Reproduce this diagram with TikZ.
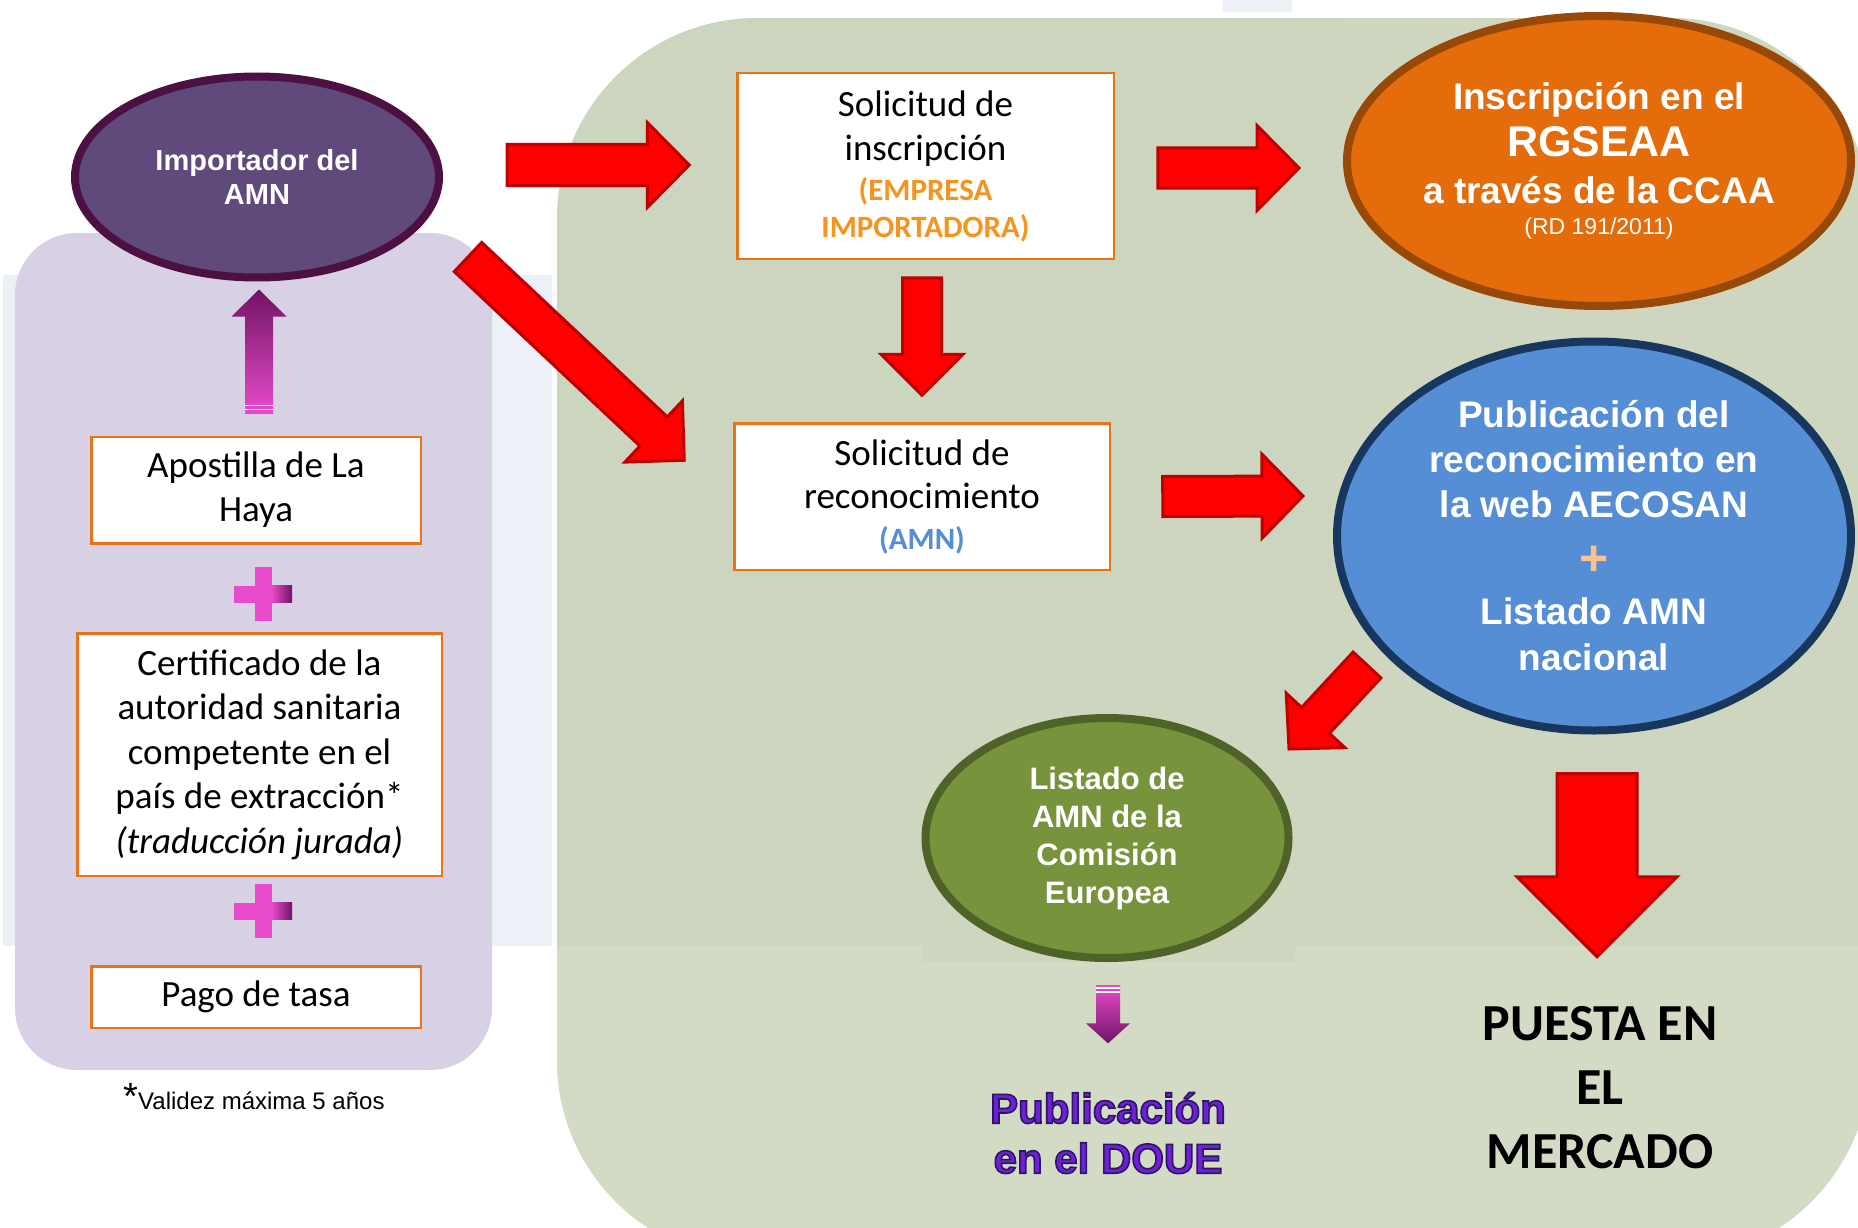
\documentclass[tikz,border=0pt]{standalone}
\usepackage{fontspec}
\setmainfont{Carlito}
\newfontfamily\arialf{Liberation Sans}
\usetikzlibrary{shapes.geometric,calc}

\definecolor{lavender}{RGB}{216,209,229}
\definecolor{paleblue}{RGB}{237,240,246}
\definecolor{greenbg}{RGB}{204,213,189}
\definecolor{greenlight}{RGB}{206,214,191}
\definecolor{greenlow}{RGB}{211,219,197}
\definecolor{impfill}{RGB}{96,74,123}
\definecolor{impline}{RGB}{77,16,66}
\definecolor{orgfill}{RGB}{228,108,10}
\definecolor{orgline}{RGB}{152,72,7}
\definecolor{bluefill}{RGB}{85,142,213}
\definecolor{blueline}{RGB}{23,55,94}
\definecolor{grnfill}{RGB}{119,147,60}
\definecolor{grnline}{RGB}{79,98,40}
\definecolor{boxline}{RGB}{232,115,26}
\definecolor{arrred}{RGB}{255,0,0}
\definecolor{arrline}{RGB}{192,0,0}
\definecolor{mag}{RGB}{232,75,203}
\definecolor{dpurple}{RGB}{112,20,100}
\definecolor{txtorange}{RGB}{245,148,30}
\definecolor{txtblue}{RGB}{85,142,213}
\definecolor{lightorange}{RGB}{250,192,144}
\definecolor{doueviolet}{RGB}{112,30,215}

% block arrow: #1 style, #2 tail, #3 tip, #4 half shaft, #5 half head, #6 head length
\newcommand{\blockarrow}[6]{%
  \coordinate (ba-t) at #2;
  \coordinate (ba-p) at #3;
  \coordinate (ba-h) at ($(ba-p)!#6!(ba-t)$);
  \path[#1] ($(ba-t)!#4!90:(ba-p)$) -- ($(ba-h)!#4!90:(ba-p)$) -- ($(ba-h)!#5!90:(ba-p)$)
    -- (ba-p) -- ($(ba-h)!#5!-90:(ba-p)$) -- ($(ba-h)!#4!-90:(ba-p)$) -- ($(ba-t)!#4!-90:(ba-p)$) -- cycle;
}
\newcommand{\magplus}[1]{%
  \begin{scope}[shift={#1}]
    \fill[mag] (-8.5,-27) rectangle (8.5,27);
    \fill[mag] (-29,-8.5) rectangle (8.6,8.5);
    \shade[left color=mag, right color=dpurple] (8.5,-8.5) rectangle (29,8.5);
  \end{scope}}
\newcommand{\outlinetext}[1]{\special{pdf:literal direct 2 Tr 1.6 w 0.16 0.09 0.38 RG}#1\special{pdf:literal direct 0 Tr}}

\tikzset{
  box/.style={draw=boxline, line width=2.5pt, fill=white, inner sep=0pt, outer sep=0pt,
    align=center, font=\fontsize{37}{44}\selectfont},
  oval/.style={ellipse, line width=8pt, inner sep=0pt, outer sep=0pt, align=center, text=white},
  redarrow/.style={fill=arrred, draw=arrline, line width=3pt, line join=miter},
  magup/.style={top color=dpurple, middle color=mag, bottom color=mag},
  magdown/.style={top color=mag, middle color=mag, bottom color=dpurple},
  plaintext/.style={inner sep=0pt, outer sep=0pt, align=center}
}

\begin{document}
\begin{tikzpicture}[x=1pt,y=-1pt]
\useasboundingbox (0,0) rectangle (1858,1228);
\clip (0,0) rectangle (1858,1228);
\fill[white] (0,0) rectangle (1858,1228);

% backgrounds
\fill[paleblue] (3,275) rectangle (552,946);
\fill[paleblue] (1223,0) rectangle (1292,12);
\fill[lavender, rounded corners=62pt] (15,233) rectangle (492,1070);
\begin{scope}
  \clip[rounded corners=200pt] (557,18) rectangle (1870,1260);
  \fill[greenbg] (557,18) rectangle (1870,1260);
  \fill[greenlow] (557,946) rectangle (1870,1260);
  \fill[greenlight] (1338,18) rectangle (1858,312);
  \fill[greenlight] (1333,336) rectangle (1858,736);
  \fill[greenlight] (922,712) rectangle (1295,962);
\end{scope}

% left column
\node[oval, fill=impfill, draw=impline, minimum width=364pt, minimum height=201pt,
  font=\arialf\bfseries\fontsize{29}{34}\selectfont] (imp) at (257,177) {Importador del\\AMN};
\node[box, minimum width=329.5pt, minimum height=106.5pt] (apost) at (256,490) {Apostilla de La\\Haya};
\node[box, minimum width=364.5pt, minimum height=242.5pt, font=\fontsize{37}{44.5}\selectfont] (cert) at (259.5,754.5)
  {Certificado de la\\autoridad sanitaria\\competente en el\\país de extracción*\\\textit{(traducción jurada)}};
\node[box, minimum width=329.5pt, minimum height=61.5pt] (pago) at (256,997) {Pago de tasa};
\node[plaintext, anchor=base, font=\arialf\fontsize{24}{29}\selectfont] (val) at (254,1109)
  {{\fontsize{38}{38}\selectfont *}Validez máxima 5 años};
\magplus{(263,594)}
\magplus{(263,911)}

% middle column
\node[box, minimum width=376.5pt, minimum height=185.5pt] (insc) at (925.5,166)
  {Solicitud de\\inscripción\\[-4pt]{\color{txtorange}\bfseries\fontsize{31}{37}\selectfont (EMPRESA}\\[-7pt]{\color{txtorange}\bfseries\fontsize{31}{37}\selectfont IMPORTADORA)}};
\node[box, minimum width=375.5pt, minimum height=146.5pt] (reco) at (922,496.5)
  {Solicitud de\\[-1pt]reconocimiento\\[-3pt]{\color{txtblue}\bfseries\fontsize{31}{37}\selectfont (AMN)}};

% right column
\node[oval, fill=orgfill, draw=orgline, minimum width=504pt, minimum height=290pt,
  font=\arialf\bfseries\fontsize{37}{47}\selectfont] (rgs) at (1599,161)
  {Inscripción en el\\{\fontsize{43}{47}\selectfont RGSEAA}\\a través de la CCAA\\[-16pt]{\mdseries\fontsize{23}{28}\selectfont (RD 191/2011)}};
\node[oval, fill=bluefill, draw=blueline, minimum width=514pt, minimum height=389pt,
  font=\arialf\bfseries\fontsize{37}{45}\selectfont] (pub) at (1594,536)
  {Publicación del\\reconocimiento en\\la web AECOSAN\\[13pt]{\color{lightorange}\fontsize{50}{50}\selectfont +}\\[4pt]Listado AMN\\[1pt]nacional};
\node[oval, fill=grnfill, draw=grnline, minimum width=363pt, minimum height=240pt,
  font=\arialf\bfseries\fontsize{31}{38}\selectfont] (eur) at (1107,838)
  {Listado de\\AMN de la\\Comisión\\Europea};
\node[plaintext, text=doueviolet, font=\arialf\bfseries\fontsize{42}{50}\selectfont] (doue) at (1108,1133)
  {\outlinetext{Publicación}\\\outlinetext{en el DOUE}};
\node[plaintext, font=\bfseries\fontsize{52}{64}\selectfont] (mkt) at (1600,1088)
  {PUESTA EN\\EL\\MERCADO};

% red arrows
\blockarrow{redarrow}{($(imp.east)+(68,-12)$)}{($(insc.west)+(-48,-1)$)}{20.5pt}{42.5pt}{42pt}
\blockarrow{redarrow}{($(insc.east)+(44,2)$)}{($(rgs.west)+(-48,7)$)}{20pt}{42.5pt}{42pt}
\blockarrow{redarrow}{($(insc.south)+(-3.5,19)$)}{($(reco.north)+(0,-28)$)}{19.5pt}{41pt}{41pt}
\blockarrow{redarrow}{($(imp.center)+(211,80)$)}{($(reco.north west)+(-50,37)$)}{20pt}{42pt}{42pt}
\blockarrow{redarrow}{($(reco.east)+(53,0)$)}{($(pub.west)+(-34,-40)$)}{20pt}{42pt}{41pt}
\blockarrow{redarrow}{($(pub.center)+(-227,129)$)}{($(eur.center)+(182,-89)$)}{19pt}{40pt}{39pt}
\blockarrow{redarrow}{($(pub.south)+(3,43)$)}{($(mkt.north)+(-3,-50)$)}{40pt}{80pt}{80pt}

% magenta arrows
\blockarrow{magup}{($(apost.north)+(3,-23)$)}{($(imp.south)+(2,12)$)}{14pt}{27.5pt}{27pt}
\draw[white, line width=1.3pt] ($(ba-t)+(-14,-4)$) -- ($(ba-t)+(14,-4)$);
\draw[white, line width=1.3pt] ($(ba-t)+(-14,-8)$) -- ($(ba-t)+(14,-8)$);
\blockarrow{magdown}{($(eur.south)+(1,27)$)}{($(doue.north)+(0,-49)$)}{12pt}{22pt}{20pt}
\draw[white, line width=1.2pt] ($(ba-t)+(-12,3)$) -- ($(ba-t)+(12,3)$);
\draw[white, line width=1.2pt] ($(ba-t)+(-12,7)$) -- ($(ba-t)+(12,7)$);
\end{tikzpicture}
\end{document}
